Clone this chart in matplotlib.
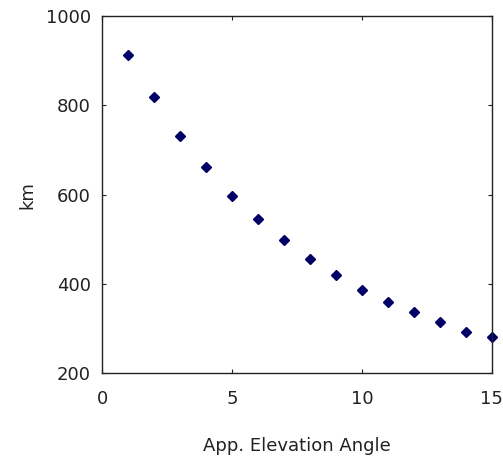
import matplotlib
matplotlib.use("Agg")
import matplotlib.pyplot as plt

# slant range (km) against apparent elevation angle (deg)
angles = [1, 2, 3, 4, 5, 6, 7, 8, 9, 10, 11, 12, 13, 14, 15]
ranges_km = [913, 818, 732, 661, 598, 546, 499, 455, 419, 386,
             360, 338, 315, 293, 280]

x_ticks = [0, 5, 10, 15]
y_ticks = [200, 400, 600, 800, 1000]

plt.rcParams["font.family"] = ["DejaVu Sans"]

fig = plt.figure(figsize=(5.03, 4.59), dpi=100)
ax = fig.add_axes([0.203, 0.187, 0.775, 0.778])

ax.plot(angles, ranges_km, linestyle="none", marker="D", markersize=5,
        color="#000066", clip_on=False)

ax.set_xlim(0, 15)
ax.set_ylim(200, 1000)
ax.set_xticks(x_ticks)
ax.set_yticks(y_ticks)
ax.tick_params(direction="in", length=3, width=0.8, top=True, right=True,
               labelsize=13, colors="#222222")
ax.tick_params(axis="x", pad=12)
ax.tick_params(axis="y", pad=8)
for spine in ax.spines.values():
    spine.set_linewidth(1.0)
    spine.set_color("#222222")

ax.set_xlabel("App. Elevation Angle", fontsize=13, color="#222222",
              labelpad=21)
ax.set_ylabel("km", fontsize=13, color="#222222", labelpad=7)

fig.savefig("out.png", dpi=100, facecolor="white")
